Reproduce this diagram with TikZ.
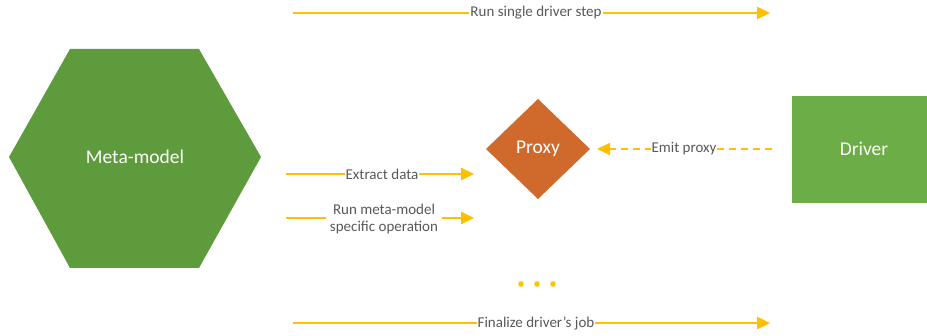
\documentclass[tikz,border=0pt]{standalone}
\usepackage{fontspec}
\setmainfont{Carlito}
\usetikzlibrary{arrows.meta,shapes.geometric}
\definecolor{gold}{HTML}{FFC000}
\definecolor{hexgreen}{HTML}{5E9B3C}
\definecolor{drvgreen}{HTML}{6CAD47}
\definecolor{proxorange}{HTML}{D06A2C}
\definecolor{txtgray}{HTML}{595959}
\tikzset{
  flow/.style={draw=gold, line width=2.8pt, -{Triangle[length=13pt,width=12pt]}},
  dflow/.style={flow, dashed, dash pattern=on 7pt off 5pt, line width=1.8pt},
  lbl/.style={fill=white, text=txtgray, font=\fontsize{15}{16.5}\selectfont, inner sep=1pt, align=center},
  shapetxt/.style={text=white, font=\fontsize{19.5}{22}\selectfont},
}
\begin{document}
\begin{tikzpicture}[x=1pt,y=-1pt]
\useasboundingbox (0,0) rectangle (927,336);
% Meta-model hexagon
\fill[hexgreen] (9,157) -- (70,49) -- (199,49) -- (261,157) -- (199,268) -- (70,268) -- cycle;
\node[shapetxt] (meta) at (135,157) {Meta-model};
% Proxy diamond
\fill[proxorange] (538,99) -- (590,149) -- (538,199) -- (486,149) -- cycle;
\node[shapetxt] (proxy) at (538,149) {Proxy};
\coordinate (proxyR) at (597,149);
% Driver
\fill[drvgreen] (792,96) rectangle (927,203);
\node[shapetxt] (driver) at (864,149) {Driver};
\coordinate (driverL) at (772,149);
% Arrows
\coordinate (a1s) at (293,13); \coordinate (a1e) at (770,13);
\draw[flow] (a1s) -- (a1e);
\node[lbl] (l1) at (536,13) {Run single driver step};
\coordinate (a2s) at (286,174); \coordinate (a2e) at (474,174);
\draw[flow] (a2s) -- (a2e);
\node[lbl] (l2) at (382,174) {Extract data};
\coordinate (a3s) at (286,218); \coordinate (a3e) at (474,218);
\draw[flow] (a3s) -- (a3e);
\node[lbl, inner xsep=4pt] (l3) at (384,219) {Run meta-model\\specific operation};
\draw[dflow] (driverL) -- (proxyR);
\node[lbl] (l4) at (684,149) {Emit proxy};
\coordinate (a5s) at (293,323); \coordinate (a5e) at (770,323);
\draw[flow] (a5s) -- (a5e);
\node[lbl] (l5) at (536,323) {Finalize driver’s job};
% dots
\foreach \x/\n in {521/d1,537/d2,553/d3} \fill[gold] (\x,284) circle (2.8pt);
\end{tikzpicture}
\end{document}
